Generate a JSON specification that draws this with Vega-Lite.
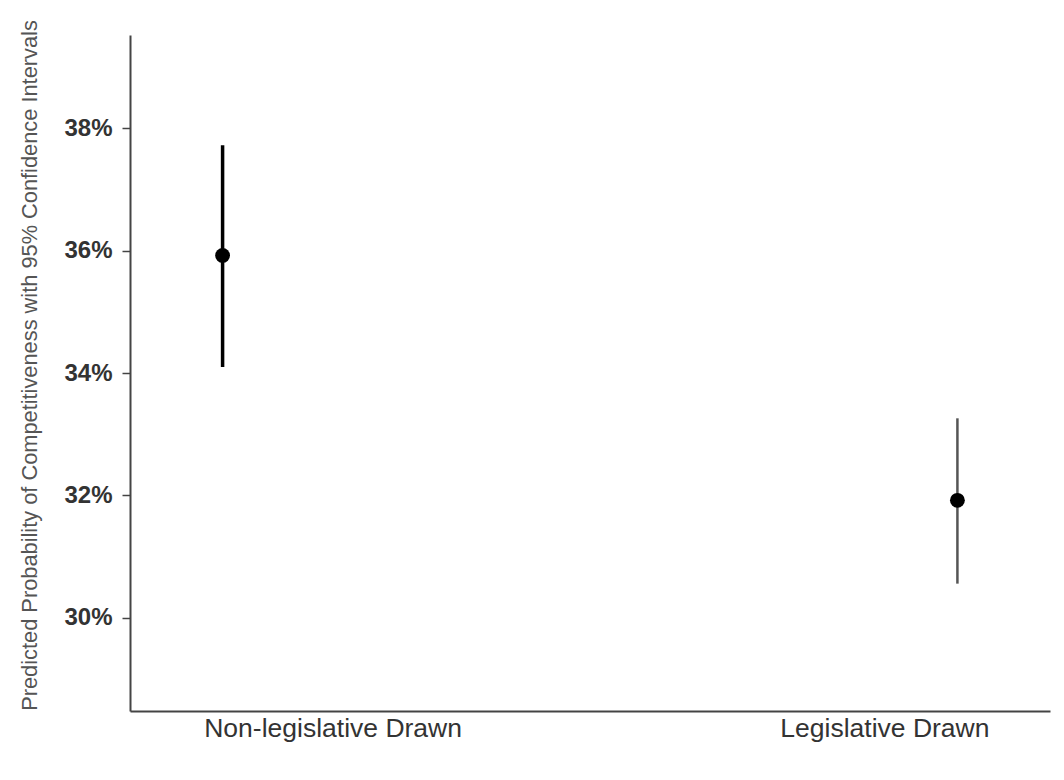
{
  "$schema": "https://vega.github.io/schema/vega-lite/v6.json",
  "width": 920,
  "height": 676,
  "autosize": {"type": "none"},
  "padding": {"left": 130, "top": 35, "right": 14, "bottom": 69},
  "background": "white",
  "config": {"view": {"stroke": null}},
  "data": {
    "values": [
      {"group": "Non-legislative Drawn", "estimate": 0.3592, "lower": 0.3410, "upper": 0.3772},
      {"group": "Legislative Drawn", "estimate": 0.3192, "lower": 0.3056, "upper": 0.3326}
    ]
  },
  "encoding": {
    "x": {
      "field": "group",
      "type": "ordinal",
      "sort": null,
      "scale": {"type": "point", "padding": 0.126},
      "axis": {
        "title": null,
        "labelAngle": 0,
        "labelFont": "Liberation Sans",
        "labelFontSize": 26.5,
        "labelLimit": 0,
        "labelColor": "#333333",
        "labelPadding": 4,
        "ticks": false,
        "tickSize": 0,
        "domainColor": "#444444",
        "domainWidth": 2,
        "grid": false,
        "labelOffset": {"condition": {"test": "datum.value === 'Non-legislative Drawn'", "value": 110}, "value": -73}
      }
    }
  },
  "layer": [
    {
      "mark": {"type": "rule"},
      "encoding": {
        "y": {
          "field": "lower",
          "type": "quantitative",
          "scale": {"domain": [0.2848, 0.3952], "nice": false, "zero": false},
          "axis": {
            "title": "Predicted Probability of Competitiveness with 95% Confidence Intervals",
            "titleFont": "Liberation Sans",
            "titleFontSize": 21.8,
            "titleFontWeight": "normal",
            "titleColor": "#555555",
            "titlePadding": 22,
            "titleY": 330,
            "values": [0.30, 0.32, 0.34, 0.36, 0.38],
            "format": ".0%",
            "labelFont": "Liberation Sans",
            "labelFontSize": 24,
            "labelFontWeight": "bold",
            "labelColor": "#333333",
            "labelPadding": 10,
            "tickSize": 8,
            "tickColor": "#444444",
            "tickWidth": 1.5,
            "domainColor": "#444444",
            "domainWidth": 2,
            "grid": false
          }
        },
        "y2": {"field": "upper"},
        "color": {
          "field": "group",
          "type": "nominal",
          "scale": {"domain": ["Non-legislative Drawn", "Legislative Drawn"], "range": ["#000000", "#555555"]},
          "legend": null
        },
        "strokeWidth": {
          "field": "group",
          "type": "ordinal",
          "scale": {"domain": ["Non-legislative Drawn", "Legislative Drawn"], "range": [3.5, 2.5]},
          "legend": null
        }
      }
    },
    {
      "mark": {"type": "point", "filled": true, "opacity": 1, "color": "#000000", "size": 220},
      "encoding": {
        "y": {"field": "estimate", "type": "quantitative"}
      }
    }
  ]
}
